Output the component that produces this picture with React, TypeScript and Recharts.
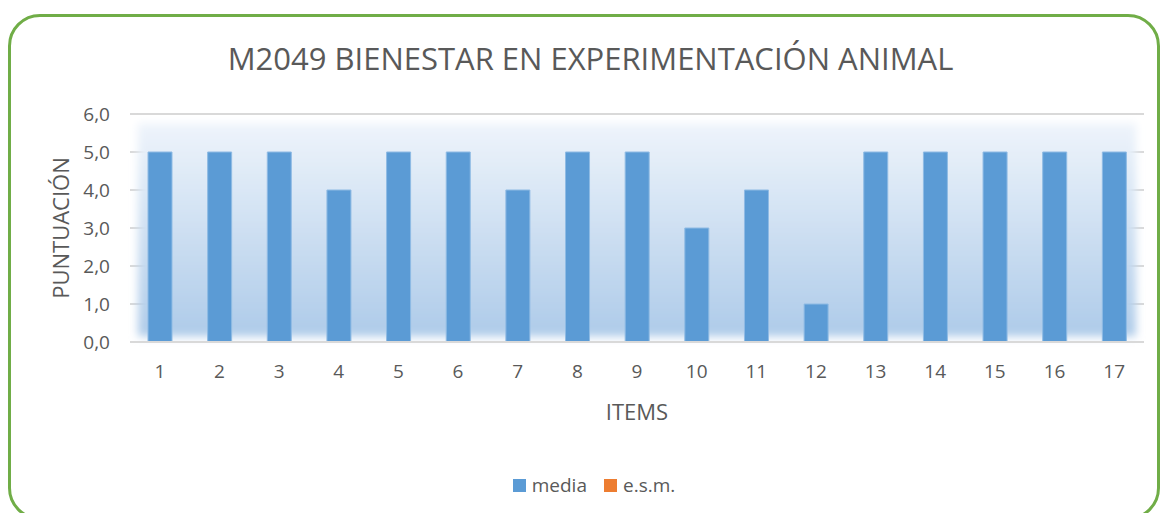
import React from 'react'
import { BarChart, Bar, XAxis, YAxis, CartesianGrid, Legend, ReferenceArea } from 'recharts'

const items = ['1', '2', '3', '4', '5', '6', '7', '8', '9', '10', '11', '12', '13', '14', '15', '16', '17']
const media = [5, 5, 5, 4, 5, 5, 4, 5, 5, 3, 4, 1, 5, 5, 5, 5, 5]
const esm = [0, 0, 0, 0, 0, 0, 0, 0, 0, 0, 0, 0, 0, 0, 0, 0, 0]
const yTicks = [0, 1, 2, 3, 4, 5, 6]

const data = items.map((item, i) => ({ item, media: media[i], esm: esm[i] }))

const FONT = '"Open Sans", "Noto Sans", sans-serif'
const TEXT = '#595959'
const BLUE = '#5b9bd5'
const ORANGE = '#ed7d31'

function fmt(v: number) {
  return v.toFixed(1).replace('.', ',')
}

function PlotGlow(props: any) {
  const { x, y, width, height } = props
  return (
    <rect
      x={x + 8}
      y={y}
      width={width - 16}
      height={height}
      fill="url(#plotGradient)"
      filter="url(#plotBlur)"
    />
  )
}

function LegendBox() {
  const entries = [
    { label: 'media', color: BLUE },
    { label: 'e.s.m.', color: ORANGE },
  ]
  return (
    <div style={{ display: 'flex', justifyContent: 'center', marginLeft: 28, fontFamily: FONT, fontSize: 19, color: TEXT }}>
      {entries.map((e, i) => (
        <div key={e.label} style={{ display: 'flex', alignItems: 'center', marginLeft: i ? 17 : 0 }}>
          <span style={{ width: 13, height: 13, background: e.color, display: 'inline-block', marginRight: 6 }} />
          <span>{e.label}</span>
        </div>
      ))}
    </div>
  )
}

function YLabel(props: any) {
  const { viewBox } = props
  const cx = viewBox.x + 60
  const cy = viewBox.y + viewBox.height / 2
  return (
    <text
      x={cx}
      y={cy}
      transform={`rotate(-90 ${cx} ${cy})`}
      textAnchor="middle"
      dominantBaseline="central"
      fill={TEXT}
      fontSize={22}
      fontFamily={FONT}
    >
      PUNTUACIÓN
    </text>
  )
}

export default function App() {
  return (
    <div style={{ position: 'absolute', left: 0, top: 0, width: 1160, height: 513, overflow: 'hidden', background: '#fff' }}>
      <div
        style={{
          position: 'absolute',
          left: 8,
          top: 14,
          width: 1152,
          height: 506,
          border: '3.5px solid #70ad47',
          borderRadius: 32,
          boxSizing: 'border-box',
        }}
      />
      <div
        style={{
          position: 'absolute',
          left: 0,
          top: 43,
          width: 1181,
          textAlign: 'center',
          fontFamily: FONT,
          fontSize: 31,
          lineHeight: '31px',
          color: TEXT,
          whiteSpace: 'nowrap',
        }}
      >
        M2049 BIENESTAR EN EXPERIMENTACIÓN ANIMAL
      </div>
      <div style={{ position: 'absolute', left: 0, top: 0 }}>
        <BarChart width={1160} height={513} data={data} margin={{ top: 114, right: 16, bottom: 71, left: 0 }}>
          <defs>
            <linearGradient id="plotGradient" x1="0" y1="0" x2="0" y2="1">
              <stop offset="0%" stopColor="#eef4fb" />
              <stop offset="100%" stopColor="#aecbe9" />
            </linearGradient>
            <filter id="plotBlur" x="-5%" y="-10%" width="110%" height="120%">
              <feGaussianBlur stdDeviation="4" />
            </filter>
          </defs>
          <ReferenceArea y1={0.15} y2={5.75} shape={<PlotGlow />} ifOverflow="extendDomain" />
          <CartesianGrid vertical={false} stroke="#d9d9d9" strokeWidth={2} />
          <XAxis
            dataKey="item"
            tickLine={false}
            axisLine={{ stroke: '#d9d9d9', strokeWidth: 2 }}
            tick={{ fill: TEXT, fontSize: 19, fontFamily: FONT }}
            tickMargin={17}
            height={100}
            label={{ value: 'ITEMS', position: 'insideBottom', offset: 22, fill: TEXT, fontSize: 22, fontFamily: FONT }}
          />
          <YAxis
            width={130}
            domain={[0, 6]}
            ticks={yTicks}
            tickFormatter={fmt}
            tickLine={false}
            axisLine={false}
            tickMargin={14}
            tick={{ fill: TEXT, fontSize: 19, fontFamily: FONT }}
            label={<YLabel />}
          />
          <Legend
            layout="horizontal"
            verticalAlign="middle"
            align="center"
            wrapperStyle={{ top: 472, left: 0, width: 1160 }}
            content={() => <LegendBox />}
          />
          <Bar dataKey="media" name="media" stackId="s" fill={BLUE} stroke="#8fbbe4" strokeWidth={1} barSize={24} isAnimationActive={false} />
          <Bar dataKey="esm" name="e.s.m." stackId="s" fill={ORANGE} barSize={24} isAnimationActive={false} />
        </BarChart>
      </div>
    </div>
  )
}
